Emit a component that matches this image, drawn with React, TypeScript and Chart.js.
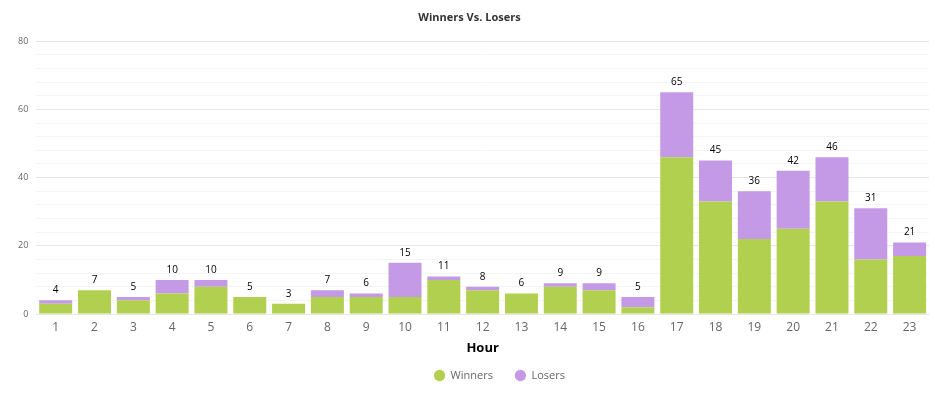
import React, { useEffect, useRef } from "react";
import { Chart, registerables } from "chart.js";

Chart.register(...registerables);

const hours = ["1","2","3","4","5","6","7","8","9","10","11","12","13","14","15","16","17","18","19","20","21","22","23"];
const winners = [3, 7, 4, 6, 8, 5, 3, 5, 5, 5, 10, 7, 6, 8, 7, 2, 46, 33, 22, 25, 33, 16, 17];
const losers = [1, 0, 1, 4, 2, 0, 0, 2, 1, 10, 1, 1, 0, 1, 2, 3, 19, 12, 14, 17, 13, 15, 4];

const totalsPlugin = {
  id: "totals",
  afterDatasetsDraw(chart: any) {
    const { ctx } = chart;
    const meta0 = chart.getDatasetMeta(0);
    const yScale = chart.scales.y;
    ctx.save();
    ctx.font = "10px 'Open Sans', sans-serif";
    ctx.fillStyle = "#000";
    ctx.textAlign = "center";
    ctx.textBaseline = "bottom";
    meta0.data.forEach((bar: any, i: number) => {
      const total = winners[i] + losers[i];
      const y = yScale.getPixelForValue(total);
      ctx.fillText(String(total), bar.x, y - 5);
    });
    ctx.restore();
  },
};

const legendShift = {
  id: "legendShift",
  afterLayout(chart: any) {
    const lg = chart.legend;
    if (lg) {
      lg.left += 30;
      lg.right += 30;
      lg.top -= 10;
      lg.bottom -= 10;
    }
  },
};

export default function App() {
  const ref = useRef<HTMLCanvasElement>(null);
  useEffect(() => {
    document.body.style.margin = "0";
    const chart = new Chart(ref.current!, {
      type: "bar",
      data: {
        labels: hours,
        datasets: [
          { label: "Winners", data: winners, backgroundColor: "#b1d04f", borderWidth: 0 },
          { label: "Losers", data: losers, backgroundColor: "#c49ae6", borderWidth: 0 },
        ],
      },
      plugins: [totalsPlugin, legendShift],
      options: {
        animation: false,
        responsive: false,
        maintainAspectRatio: false,
        layout: { padding: { left: 10, right: 6, top: 0, bottom: 8 } },
        datasets: { bar: { categoryPercentage: 1, barPercentage: 0.85 } },
        plugins: {
          title: {
            display: true,
            text: "Winners Vs. Losers",
            color: "#333",
            font: { family: "'Open Sans', sans-serif", size: 11, weight: "bold" },
            padding: { top: 11, bottom: 17 },
          },
          legend: {
            position: "bottom",
            maxHeight: 34,
            labels: {
              usePointStyle: true,
              pointStyle: "circle",
              boxWidth: 11,
              boxHeight: 8,
              padding: 22,
              color: "#666",
              font: { family: "'Open Sans', sans-serif", size: 11 },
            },
          },
          tooltip: { enabled: false },
        },
        scales: {
          x: {
            stacked: true,
            grid: { display: false, drawTicks: false },
            border: { display: false },
            ticks: { color: "#666", font: { family: "'Open Sans', sans-serif", size: 12 }, padding: 6 },
            title: {
              display: true,
              text: "Hour",
              color: "#000",
              font: { family: "'Open Sans', sans-serif", size: 13, weight: "bold" },
              padding: { top: 0, bottom: 2 },
            },
          },
          y: {
            stacked: true,
            min: 0,
            max: 80,
            border: { display: false },
            grid: {
              color: (c: any) => (c.tick && c.tick.value % 20 === 0 ? "#e6e6e6" : "#f4f4f4"),
              drawTicks: false,
            },
            ticks: {
              stepSize: 4,
              autoSkip: false,
              color: "#666",
              padding: 8,
              font: { family: "'Open Sans', sans-serif", size: 9 },
              callback: (v: any) => (v % 20 === 0 ? String(v) : ""),
            },
          },
        },
      },
    });
    return () => chart.destroy();
  }, []);
  return <canvas ref={ref} width={935} height={400} style={{ display: "block" }} />;
}
